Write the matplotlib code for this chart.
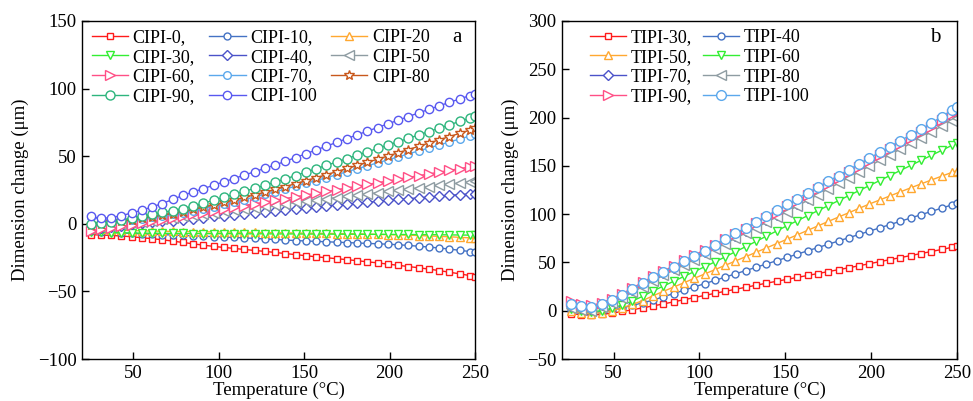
import matplotlib
matplotlib.use('Agg')
import matplotlib.pyplot as plt

plt.rcParams['font.family'] = ['Liberation Serif', 'DejaVu Serif']
plt.rcParams['mathtext.fontset'] = 'stix'

# temperature points (°C)
temps = [25, 31, 37, 43, 49, 55, 61, 67, 73, 79, 85, 91, 97, 103, 109, 115, 121, 127, 133,
         139, 145, 151, 157, 163, 169, 175, 181, 187, 193, 199, 205, 211, 217, 223, 229, 235,
         241, 247, 250]

# panel a: CIPI series, dimension change (um)
cipi0 = [-8.0, -8.3, -8.6, -9.0, -9.6, -10.3, -11.0, -11.8, -12.8, -13.8, -14.8, -15.8, -16.7,
         -17.5, -18.2, -19.0, -19.7, -20.4, -21.2, -22.0, -22.8, -23.6, -24.4, -25.1, -25.8,
         -26.5, -27.3, -28.1, -28.9, -29.8, -30.7, -31.6, -32.5, -33.5, -34.6, -35.8, -37.0,
         -38.3, -39.0]
cipi10 = [-5.5, -6.0, -6.4, -6.8, -7.1, -7.4, -7.7, -8.0, -8.3, -8.6, -8.9, -9.2, -9.5, -9.8,
          -10.1, -10.4, -10.8, -11.2, -11.6, -12.0, -12.4, -12.7, -13.0, -13.3, -13.6, -13.9,
          -14.2, -14.5, -14.8, -15.1, -15.5, -16.0, -16.6, -17.2, -17.9, -18.7, -19.6, -20.5,
          -21.0]
cipi20 = [-3.5, -4.0, -4.4, -4.7, -5.0, -5.2, -5.4, -5.5, -5.6, -5.7, -5.8, -5.9, -6.0, -6.1,
          -6.2, -6.3, -6.4, -6.5, -6.6, -6.7, -6.8, -6.9, -7.0, -7.1, -7.2, -7.3, -7.4, -7.6,
          -7.8, -8.0, -8.2, -8.4, -8.7, -9.0, -9.3, -9.6, -10.0, -10.4, -10.7]
cipi30 = [-6.0, -6.3, -6.5, -6.7, -6.8, -6.9, -7.0, -7.0, -7.1, -7.1, -7.2, -7.2, -7.3, -7.3,
          -7.3, -7.4, -7.4, -7.4, -7.5, -7.5, -7.5, -7.6, -7.6, -7.6, -7.7, -7.7, -7.7, -7.8,
          -7.8, -7.8, -7.9, -7.9, -8.0, -8.0, -8.1, -8.2, -8.3, -8.4, -8.5]
cipi40 = [-3.5, -2.8, -2.0, -1.3, -0.5, 0.3, 1.0, 1.7, 2.4, 3.1, 3.8, 4.6, 5.4, 6.1, 6.8, 7.5,
          8.2, 8.9, 9.6, 10.3, 11.0, 11.7, 12.4, 13.1, 13.8, 14.5, 15.2, 15.9, 16.6, 17.3, 18.0,
          18.6, 19.2, 19.8, 20.4, 21.0, 21.6, 22.1, 22.4]
cipi50 = [-3.0, -2.2, -1.3, -0.4, 0.5, 1.4, 2.4, 3.4, 4.4, 5.4, 6.4, 7.3, 8.2, 9.1, 10.0, 11.0,
          12.0, 13.0, 14.0, 14.9, 15.8, 16.7, 17.6, 18.5, 19.4, 20.3, 21.2, 22.1, 23.0, 23.9,
          24.8, 25.7, 26.6, 27.5, 28.4, 29.3, 30.2, 31.0, 31.3]
cipi60 = [-5.0, -4.0, -3.0, -1.9, -0.7, 0.5, 1.8, 3.1, 4.4, 5.7, 7.0, 8.3, 9.6, 10.9, 12.2, 13.5,
          14.8, 16.1, 17.4, 18.7, 20.0, 21.3, 22.6, 23.9, 25.2, 26.5, 27.8, 29.1, 30.4, 31.7,
          33.0, 34.3, 35.6, 36.9, 38.2, 39.5, 40.8, 42.1, 43.0]
cipi70 = [5.0, 3.5, 2.5, 2.5, 3.0, 3.8, 4.8, 5.9, 7.0, 8.2, 9.6, 11.1, 12.7, 14.4, 16.1, 17.9,
          19.8, 21.7, 23.7, 25.7, 27.8, 29.9, 32.0, 34.1, 36.3, 38.5, 40.7, 42.9, 45.1, 47.3,
          49.5, 51.7, 53.9, 56.1, 58.3, 60.5, 62.7, 64.9, 66.5]
cipi80 = [-1.0, 0.0, 1.0, 2.0, 3.0, 4.0, 5.2, 6.4, 7.6, 9.0, 10.6, 12.3, 14.0, 15.8, 17.6, 19.5,
          21.4, 23.4, 25.4, 27.5, 29.7, 31.9, 34.1, 36.3, 38.6, 40.9, 43.2, 45.5, 47.8, 50.1,
          52.5, 54.9, 57.3, 59.7, 62.1, 64.5, 66.9, 69.3, 70.8]
cipi90 = [0.0, 0.5, 1.5, 2.8, 4.2, 5.6, 7.0, 8.4, 9.8, 11.2, 13.2, 15.3, 17.4, 19.6, 21.8, 24.0,
          26.2, 28.5, 30.8, 33.2, 35.7, 38.2, 40.7, 43.2, 45.7, 48.2, 50.7, 53.2, 55.7, 58.2,
          60.7, 63.2, 65.7, 68.2, 70.7, 73.2, 75.7, 78.2, 79.5]
cipi100 = [5.5, 4.0, 4.5, 6.0, 8.0, 10.0, 12.5, 15.0, 18.0, 21.0, 23.5, 26.0, 28.5, 31.0, 33.5,
           36.0, 38.5, 41.0, 43.5, 46.2, 49.0, 51.8, 54.6, 57.4, 60.2, 63.0, 65.8, 68.5, 71.2,
           73.9, 76.6, 79.3, 82.0, 84.6, 87.2, 89.8, 92.3, 94.8, 96.0]

# panel b: TIPI series
tipi30 = [-3.0, -4.0, -4.5, -3.8, -2.5, -0.8, 1.0, 3.0, 5.0, 7.0, 9.2, 11.4, 13.6, 15.8, 18.0,
          20.1, 22.2, 24.3, 26.4, 28.5, 30.5, 32.5, 34.5, 36.5, 38.5, 40.5, 42.5, 44.5, 46.6,
          48.7, 50.8, 52.9, 55.0, 57.1, 59.2, 61.3, 63.4, 65.6, 67.0]
tipi40 = [1.0, -1.0, -2.0, -1.0, 0.5, 3.0, 5.5, 8.2, 11.0, 14.4, 17.8, 21.2, 24.6, 28.0, 31.4,
          34.8, 38.2, 41.6, 45.0, 48.4, 51.8, 55.2, 58.6, 62.0, 65.4, 68.8, 72.2, 75.6, 79.0,
          82.4, 85.8, 89.2, 92.6, 96.0, 99.4, 102.8, 106.2, 109.6, 111.5]
tipi50 = [0.0, -2.0, -3.0, -2.0, 0.0, 3.0, 6.5, 10.5, 15.5, 20.0, 24.5, 29.0, 33.5, 38.0, 42.5,
          47.0, 51.5, 56.0, 60.5, 65.0, 69.5, 74.0, 78.6, 83.2, 87.8, 92.4, 97.0, 101.5, 106.0,
          110.5, 114.7, 118.9, 123.1, 127.2, 131.3, 135.3, 139.3, 143.2, 145.0]
tipi60 = [2.0, 0.0, -1.0, 0.0, 2.5, 6.0, 10.0, 15.0, 20.5, 25.5, 30.5, 35.5, 40.5, 45.5, 50.5,
          55.8, 61.1, 66.4, 71.8, 77.2, 82.6, 88.0, 93.2, 98.4, 103.6, 108.8, 114.0, 119.2,
          124.4, 129.6, 134.8, 140.0, 145.2, 150.4, 155.6, 160.8, 166.0, 171.2, 173.5]
tipi70 = [5.0, 3.0, 2.0, 5.5, 10.0, 15.0, 21.0, 27.5, 33.5, 39.0, 44.5, 50.0, 55.5, 61.0, 66.5,
          72.0, 77.5, 83.0, 88.5, 94.0, 99.5, 105.0, 111.0, 117.0, 123.0, 129.0, 135.0, 141.0,
          147.0, 153.0, 159.0, 165.0, 171.0, 177.0, 183.0, 189.0, 195.0, 201.0, 204.0]
tipi80 = [3.0, 1.0, 0.0, 3.5, 8.0, 13.0, 19.0, 25.0, 31.0, 36.5, 42.0, 47.5, 53.0, 58.5, 64.0,
          69.5, 75.0, 80.5, 86.0, 91.5, 97.0, 102.5, 108.4, 114.3, 120.2, 126.1, 132.0, 137.9,
          143.8, 149.7, 155.6, 161.5, 167.4, 173.3, 179.2, 185.1, 191.0, 196.9, 199.9]
tipi90 = [10.0, 7.0, 5.5, 8.0, 12.5, 17.5, 23.5, 29.5, 35.5, 41.0, 46.5, 52.0, 57.5, 63.0, 68.5,
          74.0, 79.5, 85.0, 90.5, 96.0, 101.5, 108.0, 113.9, 119.8, 125.7, 131.6, 137.5, 143.4,
          149.3, 155.2, 161.1, 167.0, 172.9, 178.8, 184.7, 190.6, 197.0, 203.5, 206.5]
tipi100 = [7.0, 4.5, 3.5, 6.5, 11.0, 16.5, 22.5, 28.5, 34.5, 40.0, 45.5, 51.0, 56.5, 62.0, 68.0,
           74.0, 80.0, 86.0, 92.0, 98.0, 104.0, 110.0, 116.0, 122.0, 128.0, 134.0, 140.0, 146.0,
           152.0, 158.0, 164.0, 170.0, 176.0, 182.0, 188.0, 194.0, 201.0, 207.5, 211.0]

cipi_labels = ['CIPI-0,', 'CIPI-10,', 'CIPI-20', 'CIPI-30,', 'CIPI-40,', 'CIPI-50',
               'CIPI-60,', 'CIPI-70,', 'CIPI-80', 'CIPI-90,', 'CIPI-100']
tipi_labels = ['TIPI-30,', 'TIPI-40', 'TIPI-50,', 'TIPI-60', 'TIPI-70,', 'TIPI-80',
               'TIPI-90,', 'TIPI-100']

red = '#FF1A1A'
blue = '#4472C4'
orange = '#FFA830'
green = '#33EE33'
indigo = '#4B52C9'
gray = '#8E9CA2'
pink = '#FF4F86'
lightblue = '#5BA8EC'
brown = '#C8581C'
teal = '#2DB57D'
violet = '#5858F0'

cipi_data = [cipi0, cipi10, cipi20, cipi30, cipi40, cipi50, cipi60, cipi70, cipi80, cipi90, cipi100]
cipi_style = [(red, 's', 4.5), (blue, 'o', 5), (orange, '^', 6), (green, 'v', 6),
              (indigo, 'D', 5), (gray, '<', 6.5), (pink, '>', 7), (lightblue, 'o', 5.5),
              (brown, '*', 7), (teal, 'o', 6.5), (violet, 'o', 6)]

tipi_data = [tipi30, tipi40, tipi50, tipi60, tipi70, tipi80, tipi90, tipi100]
tipi_style = [(red, 's', 4.5), (blue, 'o', 5), (orange, '^', 6), (green, 'v', 6),
              (indigo, 'D', 5), (gray, '<', 6.5), (pink, '>', 7), (lightblue, 'o', 7)]

fig = plt.figure(figsize=(9.73, 4.01), dpi=100)
axA = fig.add_axes([0.0843, 0.1047, 0.4039, 0.843])
axB = fig.add_axes([0.5776, 0.1047, 0.4060, 0.843])


def draw(ax, data, styles, labels):
    lines = []
    for yValues, (color, mk, ms), lbl in zip(data, styles, labels):
        ln, = ax.plot(temps, yValues, color=color, marker=mk, markersize=ms, lw=1.0,
                      markerfacecolor='white', markeredgecolor=color, markeredgewidth=1.0,
                      label=lbl, clip_on=True)
        lines.append(ln)
    return lines


def style_axes(ax):
    ax.set_xlim(20, 250)
    ax.set_xticks([50, 100, 150, 200, 250])
    ax.tick_params(direction='in', length=5, width=1, labelsize=13.5,
                   top=False, right=False, pad=4)
    for sp in ax.spines.values():
        sp.set_linewidth(1.0)
    ax.set_xlabel('Temperature (°C)', fontsize=13.5, labelpad=0)
    ax.set_ylabel('Dimension change (μm)', fontsize=13.5, labelpad=6)


linesA = draw(axA, cipi_data, cipi_style, cipi_labels)
style_axes(axA)
axA.set_ylim(-100, 150)
axA.set_yticks([-100, -50, 0, 50, 100, 150])
orderA = [0, 3, 6, 9, 1, 4, 7, 10, 2, 5, 8]
axA.legend([linesA[i] for i in orderA], [cipi_labels[i] for i in orderA], ncol=3,
           loc='upper left', bbox_to_anchor=(0.005, 1.0), frameon=False, fontsize=13,
           handlelength=2.0, handletextpad=0.25, columnspacing=0.8, labelspacing=0.15,
           borderaxespad=0.25, borderpad=0.2)
axA.text(0.955, 0.95, 'a', transform=axA.transAxes, fontsize=15, ha='center', va='center')

linesB = draw(axB, tipi_data, tipi_style, tipi_labels)
style_axes(axB)
axB.set_ylim(-50, 300)
axB.set_yticks([-50, 0, 50, 100, 150, 200, 250, 300])
orderB = [0, 2, 4, 6, 1, 3, 5, 7]
axB.legend([linesB[i] for i in orderB], [tipi_labels[i] for i in orderB], ncol=2,
           loc='upper left', bbox_to_anchor=(0.05, 1.0), frameon=False, fontsize=13,
           handlelength=2.0, handletextpad=0.25, columnspacing=0.6, labelspacing=0.15,
           borderaxespad=0.25, borderpad=0.2)
axB.text(0.945, 0.95, 'b', transform=axB.transAxes, fontsize=15, ha='center', va='center')

fig.savefig('out.png', dpi=100)
plt.close()
